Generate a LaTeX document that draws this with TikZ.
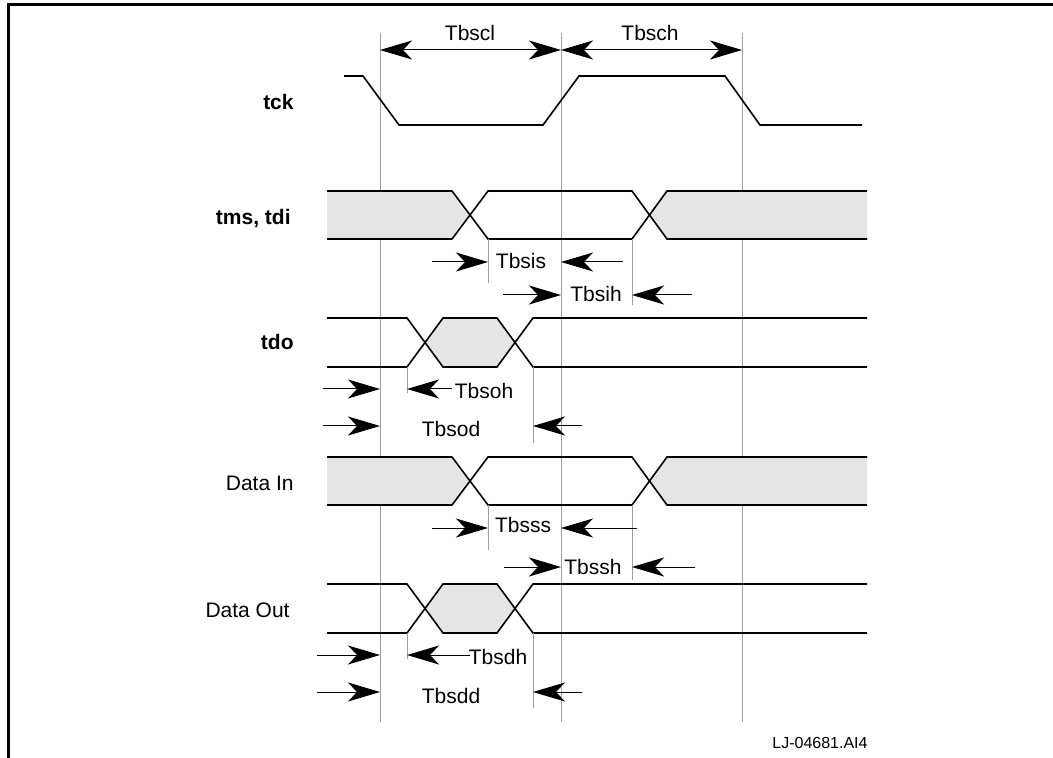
\documentclass[tikz,border=0pt]{standalone}
\usepackage{fontspec}
\setmainfont{Liberation Sans}
\usepackage{tikz}
\usetikzlibrary{arrows.meta,positioning}
\definecolor{busgray}{gray}{0.9}
\definecolor{guidegray}{gray}{0.62}

\tikzset{
  wave/.style={line width=0.8pt,line join=miter},
  guide/.style={guidegray,line width=0.5pt},
  timing/.style={line width=0.5pt,-{Stealth[length=16pt,width=9.5pt,inset=4.5pt]}},
  twohead/.style={line width=0.5pt,{Stealth[length=16pt,width=9.5pt,inset=4.5pt]}-{Stealth[length=16pt,width=9.5pt,inset=4.5pt]}},
  signame/.style={anchor=base east,inner sep=0pt,font=\fontsize{10.5}{12}\selectfont\bfseries},
  plainname/.style={anchor=base east,inner sep=0pt,font=\fontsize{10.5}{12}\selectfont},
  tlabel/.style={anchor=base,font=\fontsize{10.5}{12}\selectfont}
}

\begin{document}
\begin{tikzpicture}[x=0.5pt,y=-0.5pt]
	\useasboundingbox (0,0) rectangle (1053,758);
	\draw[line width=1.5pt] (8,758) -- (8,5) -- (1053,5);

	% clock edges
	\foreach \x in {380,561,742}
		\draw[guide] (\x,33) -- (\x,722);

	\node (tbscl) [tlabel] at (470,41) {Tbscl};
	\node (tbsch) [tlabel] at (650,41) {Tbsch};
	\draw[twohead] (380,50) -- (561,50);
	\draw[twohead] (561,50) -- (742,50);

	% tck
	\node (tck) [signame] at (294,110) {tck};
	\draw[wave] (344,76) -- (363,76) -- (399,125) -- (543,125) -- (579,76) -- (725,76) -- (760,125) -- (862,125);

	% tms, tdi and Data In
	\foreach \y in {0,266} {
		\begin{scope}[shift={(0,\y)}]
			\fill[busgray] (327,191) -- (452,191) -- (470,215) -- (452,239) -- (327,239) -- cycle;
			\fill[busgray] (650,215) -- (667,191) -- (867,191) -- (867,239) -- (667,239) -- cycle;
			\draw[wave] (327,191) -- (452,191) -- (488,239) -- (632,239) -- (667,191) -- (867,191);
			\draw[wave] (327,239) -- (452,239) -- (488,191) -- (632,191) -- (667,239) -- (867,239);
		\end{scope}
	}
	\node (tmstdi) [signame] at (291,225) {tms, tdi};
	\node (datain) [plainname] at (294,490) {Data In};

	% tdo and Data Out
	\foreach \y in {0,266} {
		\begin{scope}[shift={(0,\y)}]
			\fill[busgray] (425,342.5) -- (443,318) -- (497,318) -- (515,342.5) -- (497,367) -- (443,367) -- cycle;
			\draw[wave] (327,318) -- (407,318) -- (443,367) -- (497,367) -- (533,318) -- (867,318);
			\draw[wave] (327,367) -- (407,367) -- (443,318) -- (497,318) -- (533,367) -- (867,367);
		\end{scope}
	}
	\node (tdo) [signame] at (294,350) {tdo};
	\node (dataout) [plainname] at (290,617) {Data Out};

	% window edges
	\draw[guide] (488,239) -- (488,283);
	\draw[guide] (632,239) -- (632,305);
	\draw[guide] (407,367) -- (407,393);
	\draw[guide] (533,367) -- (533,443);
	\draw[guide] (488,505) -- (488,550);
	\draw[guide] (632,505) -- (632,580);
	\draw[guide] (407,633) -- (407,659);
	\draw[guide] (533,633) -- (533,708);

	% setup / hold
	\draw[timing] (432,262) -- (488,262);
	\draw[timing] (623,262) -- (561,262);
	\node (tbsis) [tlabel] at (521,269) {Tbsis};
	\draw[timing] (503,295) -- (561,295);
	\draw[timing] (692,295) -- (632,295);
	\node (tbsih) [tlabel] at (596,302) {Tbsih};

	\draw[timing] (323,389) -- (380,389);
	\draw[timing] (452,389) -- (407,389);
	\node (tbsoh) [tlabel] at (484,399) {Tbsoh};
	\draw[timing] (323,426) -- (380,426);
	\draw[timing] (582,426) -- (533,426);
	\node (tbsod) [tlabel] at (451,437) {Tbsod};

	\draw[timing] (432,528) -- (488,528);
	\draw[timing] (637,528) -- (561,528);
	\node (tbsss) [tlabel] at (523,532) {Tbsss};
	\draw[timing] (504,567) -- (561,567);
	\draw[timing] (695,567) -- (632,567);
	\node (tbssh) [tlabel] at (593,574) {Tbssh};

	\draw[timing] (317,655) -- (380,655);
	\draw[timing] (470,655) -- (407,655);
	\node (tbsdh) [tlabel] at (498,664) {Tbsdh};
	\draw[timing] (317,692) -- (380,692);
	\draw[timing] (582,692) -- (533,692);
	\node (tbsdd) [tlabel] at (451,703) {Tbsdd};

	\node (figid) [anchor=base,font=\fontsize{8}{10}\selectfont] at (820,748) {LJ-04681.AI4};
\end{tikzpicture}
\end{document}
